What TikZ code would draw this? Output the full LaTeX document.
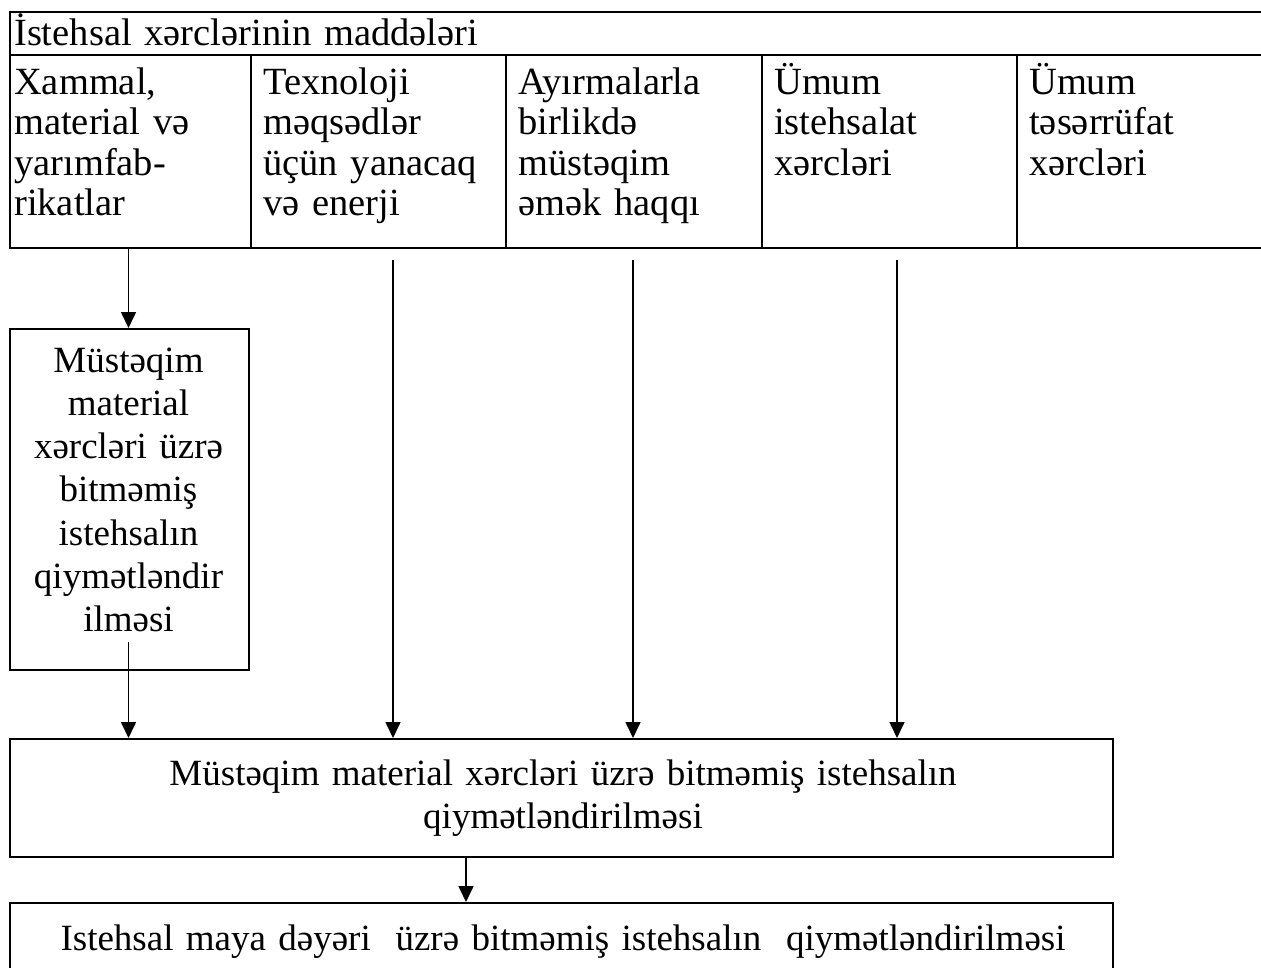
\documentclass[tikz,border=0pt]{standalone}
\usepackage{fontspec}
\setmainfont{Liberation Serif}
\usetikzlibrary{arrows.meta}
\begin{document}
\begin{tikzpicture}[x=1pt,y=1pt,
  tbl/.style={draw,line width=2.2pt,inner sep=0pt,anchor=north west},
  box/.style={draw,line width=1.6pt,inner sep=0pt,anchor=north west},
  ttext/.style={font=\fontsize{38.5}{40.5}\selectfont,inner sep=0pt,anchor=base west,text width=240pt,align=left},
  btext/.style={font=\fontsize{37}{43.3}\selectfont,inner sep=0pt,anchor=base,align=center},
  arr/.style={line width=1.6pt,-{Triangle[length=16pt,width=15pt]}}]
\useasboundingbox (0,0) rectangle (1261,-967);
\clip (0,0) rectangle (1261,-967);
% table
\node[tbl,minimum width=1300pt,minimum height=43pt] (hdr) at (9,-11) {};
\node[tbl,minimum width=241pt,minimum height=193pt] (c1) at (9,-54) {};
\node[tbl,minimum width=255pt,minimum height=193pt] (c2) at (250,-54) {};
\node[tbl,minimum width=256pt,minimum height=193pt] (c3) at (505,-54) {};
\node[tbl,minimum width=255pt,minimum height=193pt] (c4) at (761,-54) {};
\node[tbl,minimum width=300pt,minimum height=193pt] (c5) at (1016,-54) {};
\node[ttext,text width=600pt] (th) at (14,-45) {İstehsal xərclərinin maddələri};
\node[ttext] (t1) at (14,-94) {Xammal,\\material və\\yarımfab-\\rikatlar};
\node[ttext] (t2) at (263,-94) {Texnoloji\\məqsədlər\\üçün yanacaq\\və enerji};
\node[ttext] (t3) at (518,-94) {Ayırmalarla\\birlikdə\\müstəqim\\əmək haqqı};
\node[ttext] (t4) at (774,-94) {Ümum\\istehsalat\\xərcləri};
\node[ttext] (t5) at (1029,-94) {Ümum\\təsərrüfat\\xərcləri};
% left box
\node[box,minimum width=239pt,minimum height=341pt] (lb) at (9,-328) {};
\node[btext,text width=235pt] (lbt) at (128.5,-372) {Müstəqim\\material\\xərcləri üzrə\\bitməmiş\\istehsalın\\qiymətləndir\\ilməsi};
% middle box
\node[box,minimum width=1103pt,minimum height=118pt] (mb) at (9,-738) {};
\node[btext,text width=1000pt] (mbt) at (563,-785) {Müstəqim material xərcləri üzrə bitməmiş istehsalın\\qiymətləndirilməsi};
% bottom box
\node[box,minimum width=1103pt,minimum height=110pt] (bb) at (9,-902) {};
\node[btext,text width=1100pt] (bbt) at (563,-950) {Istehsal maya dəyəri\ \ üzrə bitməmiş istehsalın\ \ qiymətləndirilməsi};
% arrows
\coordinate (s0) at (128.5,-247);
\coordinate (s1) at (128.5,-642);
\coordinate (s2) at (393,-260);
\coordinate (s3) at (633,-260);
\coordinate (s4) at (897,-260);
\coordinate (s5) at (466,-856);
\draw[arr] (s0) -- (s0 |- lb.north);
\draw[arr] (s1) -- (s1 |- mb.north);
\draw[arr] (s2) -- (s2 |- mb.north);
\draw[arr] (s3) -- (s3 |- mb.north);
\draw[arr] (s4) -- (s4 |- mb.north);
\draw[arr] (s5) -- (s5 |- bb.north);
\end{tikzpicture}
\end{document}
